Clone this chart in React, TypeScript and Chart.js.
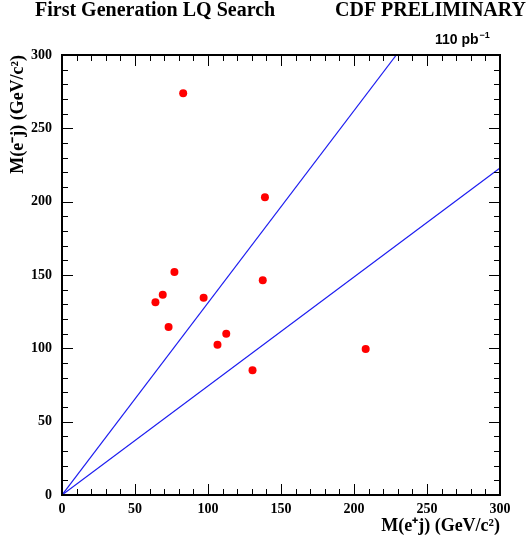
import React, { useEffect, useRef } from "react";
import { Chart, registerables } from "chart.js";

Chart.register(...registerables);

// Data
const ePlusJ = [83, 139, 77, 137.5, 69, 64, 97, 73, 112.5, 106.5, 130.5, 208];
const eMinusJ = [274, 203, 152, 146.5, 136.5, 131.5, 134.5, 114.5, 110, 102.5, 85, 99.5];
const cutLineA_x = [0, 229];
const cutLineA_y = [0, 300];
const cutLineB_x = [0, 300];
const cutLineB_y = [0, 223];

const axisMin = 0;
const axisMax = 300;
const minorStep = 10;
const majorStep = 50;

const titleLeft = "First Generation LQ Search";
const titleRight = "CDF PRELIMINARY";
const lumiText = "110 pb";
const lumiSup = "\u22121";
const xTitle = "M(e\u207Aj) (GeV/c\u00B2)";
const yTitle = "M(e\u207Bj) (GeV/c\u00B2)";

const SERIF = '"Liberation Serif", "Times New Roman", serif';
const SANS = '"Liberation Sans", Arial, sans-serif';

const framePlugin = {
  id: "framePlugin",
  afterDraw(chart: any) {
    const { ctx, chartArea } = chart;
    const xs = chart.scales.x;
    const ys = chart.scales.y;
    const { left, right, top, bottom } = chartArea;
    ctx.save();
    ctx.strokeStyle = "#000";
    ctx.lineWidth = 1;
    ctx.beginPath();
    for (let v = axisMin; v <= axisMax; v += minorStep) {
      const major = v % majorStep === 0;
      const len = major ? 11 : 6;
      const px = Math.round(xs.getPixelForValue(v)) + 0.5;
      ctx.moveTo(px, bottom);
      ctx.lineTo(px, bottom - len);
      ctx.moveTo(px, top);
      ctx.lineTo(px, top + len);
      const py = Math.round(ys.getPixelForValue(v)) + 0.5;
      ctx.moveTo(left, py);
      ctx.lineTo(left + len, py);
      ctx.moveTo(right, py);
      ctx.lineTo(right - len, py);
    }
    ctx.stroke();
    ctx.lineWidth = 2;
    ctx.strokeRect(left, top, right - left, bottom - top);

    // header texts
    ctx.fillStyle = "#000";
    ctx.textBaseline = "alphabetic";
    ctx.textAlign = "left";
    ctx.font = `bold 20px ${SERIF}`;
    ctx.fillText(titleLeft, 35, 16);
    ctx.fillText(titleRight, 335, 16);
    ctx.font = `bold 14px ${SANS}`;
    ctx.fillText(lumiText, 435, 44);
    const w = ctx.measureText(lumiText).width;
    ctx.font = `bold 9px ${SANS}`;
    ctx.fillText(lumiSup, 435 + w + 1, 38);
    ctx.restore();
  },
};

export default function App() {
  const ref = useRef<HTMLCanvasElement>(null);
  useEffect(() => {
    if (!ref.current) return;
    const tickFont = { family: SERIF, size: 14, weight: "bold" as const };
    const titleFont = { family: SERIF, size: 18, weight: "bold" as const };
    const chart = new Chart(ref.current, {
      type: "scatter",
      data: {
        datasets: [
          {
            data: ePlusJ.map((x, i) => ({ x, y: eMinusJ[i] })),
            backgroundColor: "#ff0000",
            borderColor: "#ff0000",
            pointRadius: 4,
            pointBorderWidth: 0,
          },
          {
            data: cutLineA_x.map((x, i) => ({ x, y: cutLineA_y[i] })),
            showLine: true,
            borderColor: "#1c1cf0",
            borderWidth: 1.2,
            pointRadius: 0,
          },
          {
            data: cutLineB_x.map((x, i) => ({ x, y: cutLineB_y[i] })),
            showLine: true,
            borderColor: "#1c1cf0",
            borderWidth: 1.2,
            pointRadius: 0,
          },
        ],
      },
      options: {
        responsive: false,
        animation: false,
        devicePixelRatio: 1,
        layout: { padding: { top: 55, right: 27, bottom: 0, left: 0 } },
        plugins: { legend: { display: false }, tooltip: { enabled: false } },
        scales: {
          x: {
            type: "linear",
            min: axisMin,
            max: axisMax,
            grid: { display: false, drawTicks: false, tickLength: 0 },
            border: { display: false },
            ticks: {
              stepSize: minorStep,
              autoSkip: false,
              maxRotation: 0,
              padding: 6,
              color: "#000",
              font: tickFont,
              callback: (v: any) => (Number(v) % majorStep === 0 ? String(v) : ""),
            },
            title: {
              display: true,
              text: xTitle,
              align: "end",
              color: "#000",
              font: titleFont,
              padding: { top: 0, bottom: 7 },
            },
            afterFit: (s: any) => {
              s.height = 544 - 495;
            },
          },
          y: {
            type: "linear",
            min: axisMin,
            max: axisMax,
            grid: { display: false, drawTicks: false, tickLength: 0 },
            border: { display: false },
            ticks: {
              stepSize: minorStep,
              autoSkip: false,
              padding: 10,
              color: "#000",
              font: tickFont,
              callback: (v: any) => (Number(v) % majorStep === 0 ? String(v) : ""),
            },
            title: {
              display: true,
              text: yTitle,
              align: "end",
              color: "#000",
              font: titleFont,
              padding: { top: 8, bottom: 0 },
            },
            afterFit: (s: any) => {
              s.width = 62;
            },
          },
        },
      },
      plugins: [framePlugin],
    });
    return () => chart.destroy();
  }, []);
  return (
    <div style={{ position: "absolute", left: 0, top: 0, width: 527, height: 544, background: "#fff" }}>
      <canvas ref={ref} width={527} height={544} />
    </div>
  );
}
